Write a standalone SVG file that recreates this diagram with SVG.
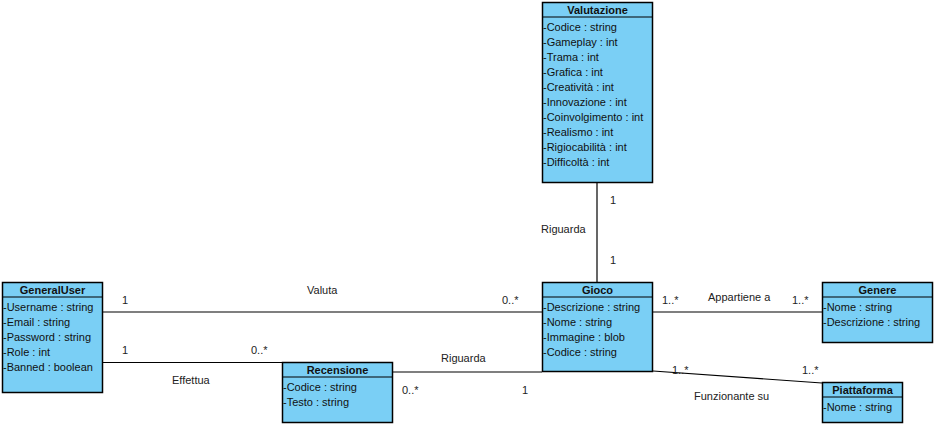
<svg xmlns="http://www.w3.org/2000/svg" width="936" height="426" viewBox="0 0 936 426">
<style>
.box{fill:#7ACFF5;stroke:#000;stroke-width:1.5}
.div{stroke:#000;stroke-width:1.2}
.t{font-family:"Liberation Sans",Arial,sans-serif;font-size:11px;fill:#111}
.h{font-family:"Liberation Sans",Arial,sans-serif;font-size:11px;font-weight:bold;fill:#111;text-anchor:middle}
.c{stroke:#000;stroke-width:1.2;fill:none}
.l{font-family:"Liberation Sans",Arial,sans-serif;font-size:11px;fill:#222}
</style>
<rect width="936" height="426" fill="#fff"/>
<g id="connectors">
<line class="c" x1="597" y1="182" x2="597" y2="282"/>
<line class="c" x1="103" y1="312" x2="542" y2="312"/>
<line class="c" x1="103" y1="362.5" x2="282" y2="362.5"/>
<line class="c" x1="393" y1="372" x2="542" y2="372"/>
<line class="c" x1="653" y1="312" x2="822" y2="312"/>
<line class="c" x1="653" y1="371" x2="822" y2="383"/>
<text class="l" x="610" y="204">1</text>
<text class="l" x="541" y="233">Riguarda</text>
<text class="l" x="610" y="264">1</text>
<text class="l" x="122" y="304">1</text>
<text class="l" x="307" y="294">Valuta</text>
<text class="l" x="502" y="304">0..*</text>
<text class="l" x="122" y="354">1</text>
<text class="l" x="251" y="354">0..*</text>
<text class="l" x="172" y="384">Effettua</text>
<text class="l" x="441" y="362">Riguarda</text>
<text class="l" x="402" y="394">0..*</text>
<text class="l" x="522" y="394">1</text>
<text class="l" x="662" y="304">1..*</text>
<text class="l" x="708" y="301">Appartiene a</text>
<text class="l" x="792" y="304">1..*</text>
<text class="l" x="672" y="374">1..*</text>
<text class="l" x="802" y="374">1..*</text>
<text class="l" x="694" y="400">Funzionante su</text>
</g>
<g id="Valutazione">
<rect class="box" x="542.5" y="2.5" width="110" height="180"/>
<line class="div" x1="542.5" y1="17" x2="652.5" y2="17"/>
<text class="h" x="597.5" y="14">Valutazione</text>
<text class="t" x="543" y="31">-Codice : string</text>
<text class="t" x="543" y="46">-Gameplay : int</text>
<text class="t" x="543" y="61">-Trama : int</text>
<text class="t" x="543" y="76">-Grafica : int</text>
<text class="t" x="543" y="91">-Creatività : int</text>
<text class="t" x="543" y="106">-Innovazione : int</text>
<text class="t" x="543" y="121">-Coinvolgimento : int</text>
<text class="t" x="543" y="136">-Realismo : int</text>
<text class="t" x="543" y="151">-Rigiocabilità : int</text>
<text class="t" x="543" y="166">-Difficoltà : int</text>
</g>
<g id="GeneralUser">
<rect class="box" x="2.5" y="282.5" width="100" height="110"/>
<line class="div" x1="2.5" y1="297" x2="102.5" y2="297"/>
<text class="h" x="52.5" y="294">GeneralUser</text>
<text class="t" x="3" y="311">-Username : string</text>
<text class="t" x="3" y="326">-Email : string</text>
<text class="t" x="3" y="341">-Password : string</text>
<text class="t" x="3" y="356">-Role : int</text>
<text class="t" x="3" y="371">-Banned : boolean</text>
</g>
<g id="Gioco">
<rect class="box" x="542.5" y="282.5" width="110" height="89"/>
<line class="div" x1="542.5" y1="297" x2="652.5" y2="297"/>
<text class="h" x="597.5" y="294">Gioco</text>
<text class="t" x="543" y="311">-Descrizione : string</text>
<text class="t" x="543" y="326">-Nome : string</text>
<text class="t" x="543" y="341">-Immagine : blob</text>
<text class="t" x="543" y="356">-Codice : string</text>
</g>
<g id="Recensione">
<rect class="box" x="282.5" y="362.5" width="110" height="60"/>
<line class="div" x1="282.5" y1="377" x2="392.5" y2="377"/>
<text class="h" x="337.5" y="374">Recensione</text>
<text class="t" x="283" y="391">-Codice : string</text>
<text class="t" x="283" y="406">-Testo : string</text>
</g>
<g id="Genere">
<rect class="box" x="822.5" y="282.5" width="110" height="60"/>
<line class="div" x1="822.5" y1="297" x2="932.5" y2="297"/>
<text class="h" x="877.5" y="294">Genere</text>
<text class="t" x="823" y="311">-Nome : string</text>
<text class="t" x="823" y="326">-Descrizione : string</text>
</g>
<g id="Piattaforma">
<rect class="box" x="822.5" y="382.5" width="80" height="40"/>
<line class="div" x1="822.5" y1="397" x2="902.5" y2="397"/>
<text class="h" x="862.5" y="394">Piattaforma</text>
<text class="t" x="823" y="411">-Nome : string</text>
</g>
</svg>
